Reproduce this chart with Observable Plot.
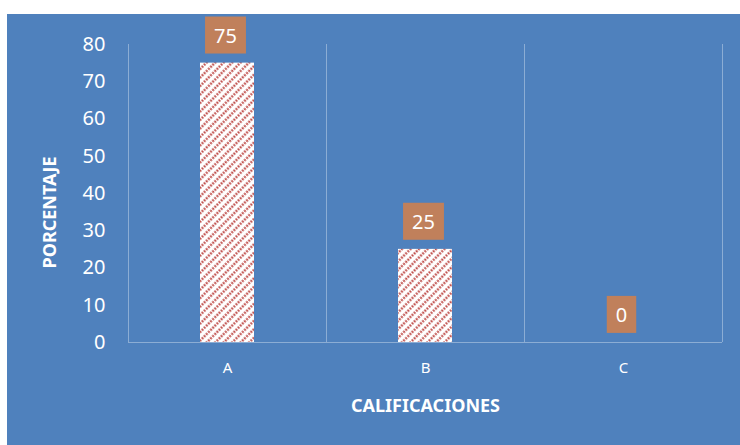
<!DOCTYPE html>
<html><head><meta charset="utf-8">
<script src="https://cdn.jsdelivr.net/npm/d3@7"></script>
<script src="https://cdn.jsdelivr.net/npm/@observablehq/plot@0.6"></script>
<style>
body{margin:0;background:#fff;}
#wrap{position:absolute;left:7px;top:14px;width:733px;height:431px;background:#4f81bd;}
svg{font-family:"Noto Sans",sans-serif;}
</style></head><body><div id="wrap"></div>
<script>
const categories = ["A","B","C"];
const values = [75,25,0];
const yTicks = [0,10,20,30,40,50,60,70,80];
const data = categories.map((c,i)=>({cat:c, val:values[i]}));

const grid = "rgba(255,255,255,0.35)";
const chart = Plot.plot({
  width:733, height:431,
  marginLeft:121, marginRight:18, marginTop:30, marginBottom:103,
  style:{background:"transparent", color:"#fff", fontSize:"19px"},
  x:{domain:categories, padding:0, label:null},
  y:{domain:[0,80], ticks:yTicks, label:null},
  marks:[
    Plot.ruleX(categories, {x:d=>d, dx:99, y1:0, y2:80, stroke:grid, strokeWidth:1}),
    Plot.ruleX(["A"], {x:d=>d, dx:-99, y1:0, y2:80, stroke:grid, strokeWidth:1}),
    Plot.barY(data, {x:"cat", y:"val", fill:"url(#hatch)", insetLeft:72, insetRight:72}),
    Plot.ruleY([0], {stroke:grid, strokeWidth:1}),
    Plot.text(data, {x:"cat", y:"val", text:d=>String(d.val), dx:-2, dy:-27, fill:"#fff", fontSize:20, className:"vlabel"}),
    Plot.axisX({tickSize:0, tickPadding:20, fontSize:15, label:null}),
    Plot.axisY({ticks:yTicks, tickSize:0, tickPadding:23, fontSize:20, label:null}),
    Plot.text(["CALIFICACIONES"], {frameAnchor:"bottom", dy:69, fill:"#fff", fontSize:18, fontWeight:"bold"}),
    Plot.text(["PORCENTAJE"], {frameAnchor:"left", dx:-78, dy:19, rotate:-90, textAnchor:"middle", fill:"#fff", fontSize:18, fontWeight:"bold"})
  ]
});
document.getElementById("wrap").appendChild(chart);
const ns = "http://www.w3.org/2000/svg";
const defs = document.createElementNS(ns,"defs");
defs.innerHTML = `<pattern id="hatch" patternUnits="userSpaceOnUse" width="6" height="6" patternTransform="rotate(45)">
<rect width="6" height="6" fill="#fff"/>
<line x1="1.5" y1="0" x2="1.5" y2="6" stroke="#c0504d" stroke-width="2.2" stroke-dasharray="2,1"/>
</pattern>`;
chart.insertBefore(defs, chart.firstChild);
chart.querySelectorAll(".vlabel text").forEach(t=>{
  const b = t.getBBox();
  const r = document.createElementNS(ns,"rect");
  const padX = 9, w = b.width + 2*padX, h = 37;
  const cy = b.y + b.height/2;
  r.setAttribute("x", b.x - padX);
  r.setAttribute("y", cy - h/2);
  r.setAttribute("width", w);
  r.setAttribute("height", h);
  r.setAttribute("fill", "#c0805b");
  if (t.getAttribute("transform")) r.setAttribute("transform", t.getAttribute("transform"));
  t.parentNode.insertBefore(r, t);
});
</script></body></html>
